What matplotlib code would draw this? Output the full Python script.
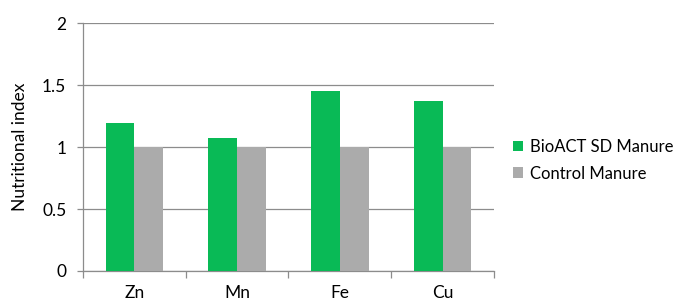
import matplotlib.pyplot as plt
import numpy as np

categories = ['Zn', 'Mn', 'Fe', 'Cu']
bioact = [1.19, 1.07, 1.45, 1.37]
control = [1.0, 1.0, 1.0, 1.0]

plt.rcParams['font.family'] = ['Lato', 'DejaVu Sans']

fig = plt.figure(figsize=(6.88, 3.04), dpi=100)
ax = fig.add_axes([0.1206, 0.1086, 0.5974, 0.8154])

x = np.arange(len(categories))
w = 0.28
ax.bar(x - w / 2, bioact, w, color='#09BA56', label='BioACT SD Manure', zorder=3)
ax.bar(x + w / 2, control, w, color='#ABABAB', label='Control Manure', zorder=3)

ax.set_xlim(-0.5, len(categories) - 0.5)
ax.set_ylim(0, 2)
ax.set_yticks([0, 0.5, 1, 1.5, 2])
ax.set_yticklabels(['0', '0.5', '1', '1.5', '2'])
ax.yaxis.grid(True, color='#8C8C8C', linewidth=0.9, zorder=0)

ax.set_xticks(x)
ax.set_xticklabels(categories)
ax.set_xticks(np.arange(len(categories) + 1) - 0.5, minor=True)
ax.tick_params(axis='x', which='major', length=0, pad=10)
ax.tick_params(axis='x', which='minor', length=5, color='#8C8C8C', width=0.9)
ax.tick_params(axis='y', length=4, color='#8C8C8C', width=0.9, pad=8)
ax.tick_params(labelsize=12.5)

for s in ['top', 'right']:
    ax.spines[s].set_visible(False)
for s in ['left', 'bottom']:
    ax.spines[s].set_color('#8C8C8C')
    ax.spines[s].set_linewidth(0.9)

ax.set_ylabel('Nutritional index', fontsize=12.5, labelpad=10)

ax.legend(loc='center left', bbox_to_anchor=(1.01, 0.447), frameon=False,
          fontsize=12, handlelength=0.6, handleheight=0.6, handletextpad=0.4,
          labelspacing=0.65)

fig.savefig('out.png', dpi=100)
